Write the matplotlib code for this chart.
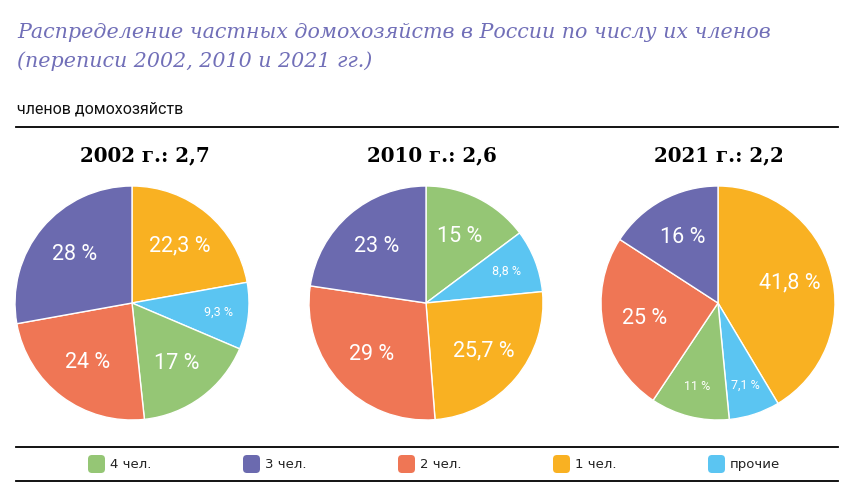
import matplotlib
matplotlib.use("Agg")
import matplotlib.pyplot as plt
from matplotlib.patches import FancyBboxPatch
from matplotlib import font_manager
import numpy as np

# ---- data ----
years = ["2002 г.: 2,7", "2010 г.: 2,6", "2021 г.: 2,2"]
legend_labels = ["4 чел.", "3 чел.", "2 чел.", "1 чел.", "прочие"]
legend_colors = ["#95c675", "#6b6aaf", "#ef7655", "#f9b122", "#5bc5f2"]

# each pie: categories in clockwise order from 12 o'clock
pie2002_cats = ["1 чел.", "прочие", "4 чел.", "2 чел.", "3 чел."]
pie2002_vals = [22.3, 9.3, 17, 24, 28]
pie2002_lbls = ["22,3 %", "9,3 %", "17 %", "24 %", "28 %"]

pie2010_cats = ["4 чел.", "прочие", "1 чел.", "2 чел.", "3 чел."]
pie2010_vals = [15, 8.8, 25.7, 29, 23]
pie2010_lbls = ["15 %", "8,8 %", "25,7 %", "29 %", "23 %"]

pie2021_cats = ["1 чел.", "прочие", "4 чел.", "2 чел.", "3 чел."]
pie2021_vals = [41.8, 7.1, 11, 25, 16]
pie2021_lbls = ["41,8 %", "7,1 %", "11 %", "25 %", "16 %"]

title_line1 = "Распределение частных домохозяйств в России по числу их членов"
title_line2 = "(переписи 2002, 2010 и 2021 гг.)"
subtitle = "членов домохозяйств"

names = {f.name for f in font_manager.fontManager.ttflist}
narrow = "Liberation Sans Narrow" if "Liberation Sans Narrow" in names else "DejaVu Sans"

W, H = 846, 490
fig = plt.figure(figsize=(W / 100, H / 100), dpi=100)

# overlay axes in pixel coords
ov = fig.add_axes([0, 0, 1, 1])
ov.set_xlim(0, W)
ov.set_ylim(H, 0)
ov.axis("off")

for yb, line in [(38, title_line1), (67, title_line2)]:
    ov.text(17, yb, line, fontsize=14.9, family="DejaVu Serif", style="italic",
            color="#716fb8", va="baseline", ha="left")
ov.text(17, 109, subtitle, fontsize=11.5, family="Roboto", color="#111111",
        va="center", ha="left")
ov.plot([16, 838], [127, 127], color="black", lw=1.3)
ov.plot([16, 838], [447, 447], color="black", lw=1.3)
ov.plot([16, 838], [481, 481], color="black", lw=1.3)

cmap = dict(zip(legend_labels, legend_colors))
pies = [(pie2002_cats, pie2002_vals, pie2002_lbls),
        (pie2010_cats, pie2010_vals, pie2010_lbls),
        (pie2021_cats, pie2021_vals, pie2021_lbls)]
centers_x = [132, 426, 718]
title_x = [145, 432, 719]
cy, R = 303, 117

for (cats, vals, lbls), cx, tx, yr in zip(pies, centers_x, title_x, years):
    ax = fig.add_axes([(cx - R) / W, (H - cy - R) / H, 2 * R / W, 2 * R / H])
    wedges, _ = ax.pie(vals, colors=[cmap[c] for c in cats], startangle=90,
                       counterclock=False,
                       wedgeprops=dict(edgecolor="white", linewidth=1))
    ax.set_xlim(-1, 1)
    ax.set_ylim(-1, 1)
    ax.set_aspect("equal")
    ax.axis("off")
    total = sum(vals)
    for w, v, l in zip(wedges, vals, lbls):
        ang = np.deg2rad((w.theta1 + w.theta2) / 2)
        frac = v / total
        if frac < 0.13:
            d, fs = 0.74, 9
        else:
            d, fs = 0.64, 15.5
        ax.text(d * np.cos(ang), d * np.sin(ang), l, ha="center", va="center",
                color="white", fontsize=fs, family="Roboto")
    ov.text(tx, 155, yr, ha="center", va="center", fontsize=14.3,
            family="DejaVu Serif", weight="bold", color="black")

# legend
leg_x = [88, 243, 398, 553, 708]
for x, lab, col in zip(leg_x, legend_labels, legend_colors):
    ov.add_patch(FancyBboxPatch((x, 455), 17, 18, boxstyle="round,pad=0,rounding_size=4",
                                facecolor=col, edgecolor="none"))
    ov.text(x + 22, 464, lab, ha="left", va="center", fontsize=9.5,
            family=narrow, color="#222222")

fig.savefig("out.png", dpi=100)
